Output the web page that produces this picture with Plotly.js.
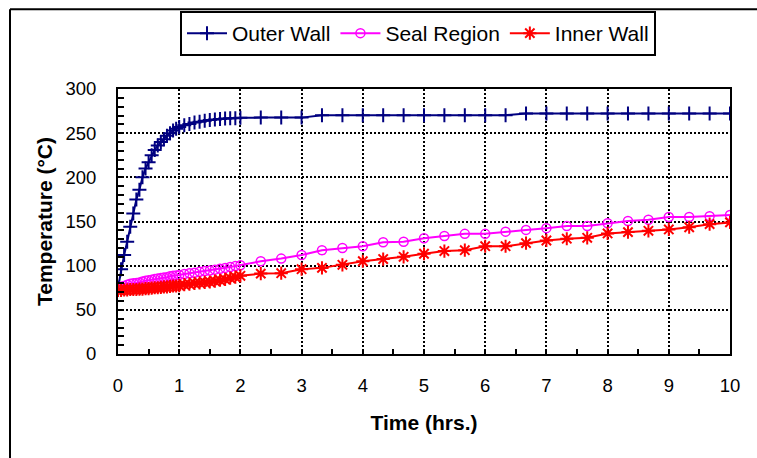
<!DOCTYPE html>
<html>
<head>
<meta charset="utf-8">
<script src="https://cdn.plot.ly/plotly-3.0.1.min.js"></script>
<style>html,body{margin:0;padding:0;background:#fff;}#chart{width:757px;height:458px;}</style>
</head>
<body>
<div id="chart"></div>
<script>
// Time (hrs.)
const timeHrs = [0,0.05,0.1,0.15,0.2,0.25,0.3,0.35,0.4,0.45,0.5,0.55,0.6,0.65,0.7,0.75,0.8,0.85,0.9,0.95,1.0,
  1.083,1.167,1.25,1.333,1.417,1.5,1.583,1.667,1.75,1.833,1.917,2.0,
  2.333,2.667,3.0,3.333,3.667,4.0,4.333,4.667,5.0,5.333,5.667,6.0,6.333,6.667,7.0,7.333,7.667,8.0,8.333,8.667,9.0,9.333,9.667,10.0];
const outerWall = [75,96,112,127,144,159,175,186,200,210,217,225,231,236,240,243,247,250,253,255,257,
  259,260.5,262,263,264,265,265.5,266,266.5,267,267,267.5,
  267.6,267.6,267.6,270.3,270.3,270.3,270.3,270.3,270.3,270.3,270.3,270.3,270.3,272.2,272.2,272.2,272.2,272.2,272.2,272.2,272.2,272.2,272.2,272.2];
const sealRegion = [75,76,77,78.5,79.5,80,80.5,81,82,83,83.5,84,85,85.5,86,86.5,87,88,88.5,89,89.5,
  90.5,91.5,92,93,94,94.5,95.5,96.5,97.5,98.5,99.5,100.5,
  105,108,112,117.5,120,122,126.5,127,131,133.5,136,136,138.5,140.5,142.5,145,145,148,150.5,152,155,155,156,157.5];
const innerWall = [72,72,72.5,72.5,73,73,73,73.5,73.5,74,74,74.5,75,75,75.5,76,76,76.5,77,77,77.5,
  78.5,79,80,80.5,81,81.5,82.5,83.5,84.5,86,87,88.5,
  91,91.5,96,97.5,101,105,107.5,110,113.5,116.5,117.5,122,122,125.5,128.5,130.5,131.5,136.5,138,139.5,141,143.5,147,149];
const seriesNames = ["Outer Wall","Seal Region","Inner Wall"];
const xTickVals = [0,1,2,3,4,5,6,7,8,9,10];
const yTickVals = [0,50,100,150,200,250,300];

const FONT = "Liberation Sans, Arial, sans-serif";
const traces = [
  {x: timeHrs, y: outerWall, name: seriesNames[0], mode: "lines+markers",
   line: {color: "#000080", width: 2},
   marker: {symbol: "cross-thin", size: 10, color: "#000080", line: {color: "#000080", width: 2}}},
  {x: timeHrs, y: sealRegion, name: seriesNames[1], mode: "lines+markers",
   line: {color: "#FF00FF", width: 2},
   marker: {symbol: "circle-open", size: 9, color: "#FF00FF", line: {color: "#FF00FF", width: 1.5}}},
  {x: timeHrs, y: innerWall, name: seriesNames[2], mode: "lines+markers",
   line: {color: "#FF0000", width: 2},
   marker: {symbol: "asterisk-open", size: 11, color: "#FF0000", line: {color: "#FF0000", width: 2}}}
];

const pl = 118, pr = 730, pt = 88, pb = 354;
const px = v => (v - pl) / (pr - pl);
const py = v => (pb - v) / (pb - pt);

const layout = {
  width: 757, height: 458,
  margin: {l: pl, r: 757 - pr, t: pt, b: 458 - pb, pad: 0},
  paper_bgcolor: "#fff", plot_bgcolor: "#fff",
  font: {family: FONT, color: "#000", size: 18},
  showlegend: true,
  legend: {orientation: "h", x: px(180), xanchor: "left", y: py(11), yanchor: "top",
    bgcolor: "#fff", bordercolor: "#000", borderwidth: 2,
    font: {family: FONT, size: 21, color: "#000"}, itemwidth: 40, tracegroupgap: 0},
  xaxis: {range: [0, 10], tickvals: xTickVals, ticktext: xTickVals.map(String),
    ticks: "inside", ticklen: 5, tickwidth: 2, tickcolor: "#000",
    minor: {dtick: 0.5, ticks: "inside", ticklen: 5, tickwidth: 2, tickcolor: "#000", showgrid: false},
    showline: true, linewidth: 2, linecolor: "#000", mirror: true,
    showgrid: true, gridcolor: "#000", gridwidth: 2, griddash: "2px,2px",
    zeroline: false, ticklabelstandoff: 14,
    tickfont: {family: FONT, size: 18.5, color: "#000"},
    title: {text: "Time (hrs.)", font: {family: FONT, size: 21, color: "#000", weight: "bold"}, standoff: 20},
    automargin: false},
  yaxis: {range: [0, 300], tickvals: yTickVals, ticktext: yTickVals.map(String),
    ticks: "inside", ticklen: 6, tickwidth: 2, tickcolor: "#000",
    minor: {dtick: 10, ticks: "inside", ticklen: 6, tickwidth: 2, tickcolor: "#000", showgrid: false},
    showline: true, linewidth: 2, linecolor: "#000", mirror: true,
    showgrid: true, gridcolor: "#000", gridwidth: 2, griddash: "2px,2px",
    zeroline: false, ticklabelstandoff: 16,
    tickfont: {family: FONT, size: 18.5, color: "#000"},
    title: {text: "Temperature (°C)", font: {family: FONT, size: 21, color: "#000", weight: "bold"}, standoff: 7},
    automargin: false},
  shapes: [
    {type: "line", xref: "paper", yref: "paper", x0: px(10), x1: px(10), y0: py(8), y1: py(470), line: {color: "#000", width: 2}},
    {type: "line", xref: "paper", yref: "paper", x0: px(10), x1: px(770), y0: py(8), y1: py(8), line: {color: "#000", width: 2}}
  ]
};

Plotly.newPlot("chart", traces, layout, {displayModeBar: false, staticPlot: true});
</script>
</body>
</html>
